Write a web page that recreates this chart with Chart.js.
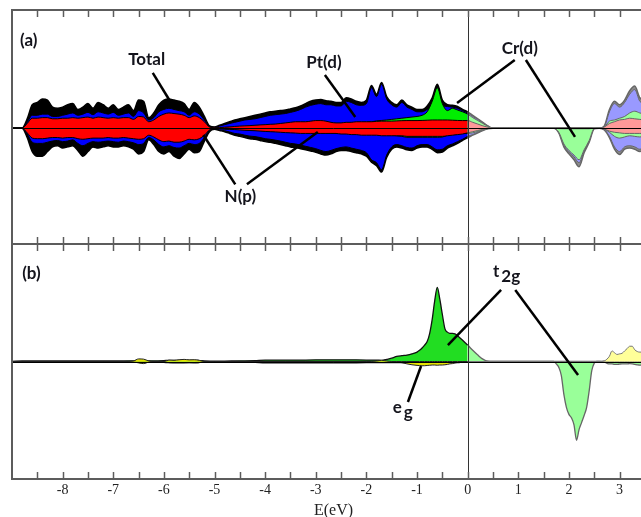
<!DOCTYPE html>
<html>
<head>
<meta charset="utf-8">
<script src="https://cdn.jsdelivr.net/npm/chart.js@4.4.1/dist/chart.umd.min.js"></script>
<style>
  html, body { margin: 0; padding: 0; background: #fff; overflow: hidden; }
  #wrap { position: relative; width: 641px; height: 517px; overflow: hidden; }
  #chartA { position: absolute; left: 0; top: 0; }
  #chartB { position: absolute; left: 0; top: 234px; }
</style>
</head>
<body>
<div id="wrap">
  <canvas id="chartA" width="660" height="250"></canvas>
  <canvas id="chartB" width="660" height="286"></canvas>
</div>
<script>
// ---- panel (a): total and partial DOS, spin up (+) and spin down (-) ----
const energyA = [
  -9.0, -8.9, -8.8, -8.7, -8.6, -8.5, -8.4, -8.3, -8.2, -8.1,
  -8.0, -7.9, -7.8, -7.7, -7.6, -7.5, -7.4, -7.3, -7.2, -7.1,
  -7.0, -6.9, -6.8, -6.7, -6.6, -6.5, -6.4, -6.3, -6.2, -6.1,
  -6.0, -5.9, -5.8, -5.7, -5.6, -5.5, -5.4, -5.3, -5.2, -5.1,
  -5.0, -4.9, -4.8, -4.7, -4.6, -4.5, -4.4, -4.3, -4.2, -4.1,
  -4.0, -3.9, -3.8, -3.7, -3.6, -3.5, -3.4, -3.3, -3.2, -3.1,
  -3.0, -2.9, -2.8, -2.7, -2.6, -2.5, -2.4, -2.3, -2.2, -2.1,
  -2.0, -1.9, -1.8, -1.7, -1.6, -1.5, -1.4, -1.3, -1.2, -1.1,
  -1.0, -0.9, -0.8, -0.7, -0.6, -0.5, -0.4, -0.3, -0.2, -0.1,
  0.0, 0.1, 0.2, 0.3, 0.4, 0.5, 0.6, 0.7, 0.8, 0.9,
  1.0, 1.1, 1.2, 1.3, 1.4, 1.5, 1.6, 1.7, 1.8, 1.9,
  2.0, 2.1, 2.2, 2.3, 2.4, 2.5, 2.6, 2.7, 2.8, 2.9,
  3.0, 3.1, 3.2, 3.3, 3.4, 3.5
];
const totalUp = [
  0, 0, 0, 0.8, 2.0, 2.2, 2.5, 2.4, 1.8, 1.7,
  1.8, 2.0, 2.1, 1.6, 1.8, 2.1, 1.7, 2.2, 2.0, 1.7,
  2.0, 1.6, 1.8, 2.0, 1.5, 2.4, 2.3, 0.9, 1.3, 2.0,
  2.4, 2.5, 2.4, 2.3, 2.1, 1.6, 2.2, 1.8, 1.0, 0.2,
  0.1, 0.25, 0.4, 0.55, 0.7, 0.8, 0.9, 1.0, 1.1, 1.2,
  1.3, 1.4, 1.45, 1.5, 1.55, 1.65, 1.75, 1.9, 2.1, 2.3,
  2.4, 2.45, 2.35, 2.3, 2.2, 2.2, 2.6, 2.5, 2.3, 2.2,
  2.4, 3.65, 2.9, 3.9, 2.7, 2.2, 2.0, 2.4, 2.0, 1.8,
  1.6, 1.6, 1.9, 2.6, 3.75, 2.4, 2.0, 1.95, 1.85, 1.6,
  1.4, 1.1, 0.8, 0.5, 0.2, 0, 0, 0, 0, 0,
  0, 0, 0, 0, 0, 0, 0, 0, 0.03, 0.03,
  0.03, 0.03, 0.03, 0.03, 0.03, 0, 0, 0.2, 1.6, 2.3,
  2.0, 2.4, 3.2, 3.6, 2.6, 2.4
];
const totalDown = [
  0, 0, 0, -0.8, -2.0, -2.4, -2.4, -2.0, -1.6, -1.5,
  -1.7, -1.6, -1.5, -1.9, -2.4, -2.0, -1.6, -1.7, -1.6, -1.5,
  -1.6, -1.6, -1.5, -1.6, -1.8, -2.2, -2.0, -1.0, -1.4, -2.0,
  -2.2, -2.0, -2.4, -2.6, -2.2, -1.8, -2.1, -2.0, -1.1, -0.3,
  -0.1, -0.2, -0.3, -0.45, -0.6, -0.7, -0.8, -0.9, -0.95, -1.05,
  -1.15, -1.2, -1.3, -1.4, -1.5, -1.6, -1.65, -1.75, -1.85, -1.95,
  -2.05, -2.2, -2.3, -2.2, -2.0, -1.9, -1.9, -2.0, -2.1, -2.2,
  -2.4, -2.9, -3.2, -3.75, -2.5, -1.8, -1.6, -1.7, -1.85, -1.9,
  -1.7, -1.6, -1.6, -1.8, -2.1, -2.05, -1.7, -1.5, -1.3, -1.05,
  -0.8, -0.6, -0.4, -0.2, -0.05, 0, 0, 0, 0, 0,
  0, 0, 0, 0, 0, 0, 0, 0, -0.4, -1.6,
  -2.2, -2.7, -3.3, -2.1, -1.2, -0.05, 0, -0.15, -0.8, -1.8,
  -2.25, -1.8, -1.7, -1.8, -2.0, -1.9
];
const ptUp = [
  0, 0, 0, 0.5, 1.1, 1.1, 1.2, 1.2, 1.0, 1.0,
  1.1, 1.2, 1.3, 1.1, 1.2, 1.35, 1.15, 1.4, 1.3, 1.2,
  1.35, 1.1, 1.2, 1.3, 1.0, 1.5, 1.3, 0.7, 0.9, 1.4,
  1.6, 1.7, 1.6, 1.5, 1.4, 1.1, 1.4, 1.2, 0.7, 0.15,
  0.08, 0.18, 0.3, 0.4, 0.5, 0.6, 0.7, 0.75, 0.8, 0.9,
  1.0, 1.1, 1.15, 1.2, 1.25, 1.35, 1.45, 1.6, 1.8, 1.95,
  2.05, 2.1, 2.0, 2.0, 1.9, 1.9, 2.3, 2.2, 2.0, 1.95,
  2.1, 3.45, 2.7, 3.75, 2.5, 2.0, 1.8, 2.2, 1.8, 1.6,
  1.4, 1.4, 1.6, 1.8, 1.9, 1.9, 1.85, 1.8, 1.7, 1.5,
  1.3, 1.0, 0.75, 0.45, 0.18, 0, 0, 0, 0, 0,
  0, 0, 0, 0, 0, 0, 0, 0, 0.02, 0.02,
  0.02, 0.02, 0.02, 0.02, 0.02, 0, 0, 0.15, 1.4, 2.1,
  1.8, 2.2, 2.9, 3.3, 2.3, 2.1
];
const ptDown = [
  0, 0, 0, -0.5, -1.2, -1.3, -1.3, -1.2, -1.1, -1.05,
  -1.15, -1.1, -1.0, -1.3, -1.5, -1.3, -1.15, -1.2, -1.15, -1.1,
  -1.15, -1.2, -1.1, -1.15, -1.25, -1.4, -1.3, -0.8, -1.0, -1.4,
  -1.6, -1.5, -1.65, -1.7, -1.5, -1.3, -1.4, -1.3, -0.8, -0.2,
  -0.06, -0.15, -0.22, -0.33, -0.45, -0.5, -0.6, -0.68, -0.72, -0.8,
  -0.9, -0.95, -1.02, -1.1, -1.2, -1.3, -1.35, -1.45, -1.55, -1.65,
  -1.75, -1.9, -2.0, -1.9, -1.75, -1.65, -1.6, -1.7, -1.8, -1.9,
  -2.1, -2.7, -2.95, -3.55, -2.3, -1.6, -1.4, -1.5, -1.65, -1.7,
  -1.5, -1.4, -1.4, -1.6, -1.85, -1.8, -1.5, -1.35, -1.15, -0.95,
  -0.7, -0.55, -0.35, -0.18, -0.04, 0, 0, 0, 0, 0,
  0, 0, 0, 0, 0, 0, 0, 0, -0.37, -1.45,
  -2.0, -2.45, -2.95, -1.95, -1.1, -0.04, 0, -0.12, -0.7, -1.6,
  -2.0, -1.6, -1.5, -1.6, -1.8, -1.7
];
const crUp = [
  0, 0, 0, 0.2, 0.3, 0.3, 0.3, 0.3, 0.3, 0.3,
  0.3, 0.3, 0.3, 0.3, 0.3, 0.3, 0.3, 0.3, 0.3, 0.3,
  0.3, 0.3, 0.3, 0.3, 0.3, 0.3, 0.3, 0.3, 0.3, 0.3,
  0.3, 0.3, 0.3, 0.3, 0.3, 0.3, 0.3, 0.3, 0.3, 0.08,
  0.02, 0.04, 0.06, 0.08, 0.1, 0.12, 0.14, 0.16, 0.18, 0.2,
  0.22, 0.24, 0.26, 0.28, 0.3, 0.32, 0.34, 0.36, 0.38, 0.4,
  0.42, 0.44, 0.44, 0.42, 0.4, 0.4, 0.42, 0.44, 0.46, 0.48,
  0.5, 0.55, 0.62, 0.66, 0.7, 0.75, 0.8, 0.85, 0.9, 0.95,
  1.0, 1.1, 1.4, 2.3, 3.45, 2.1, 1.5, 1.7, 1.55, 1.4,
  1.2, 0.9, 0.65, 0.4, 0.15, 0, 0, 0, 0, 0,
  0, 0, 0, 0, 0, 0, 0, 0, 0, 0,
  0, 0, 0, 0, 0, 0, 0, 0.1, 0.6, 0.7,
  0.85, 1.0, 1.3, 1.45, 1.3, 1.2
];
const crDown = [
  0, 0, 0, -0.2, -0.3, -0.3, -0.3, -0.3, -0.3, -0.3,
  -0.3, -0.3, -0.3, -0.3, -0.3, -0.3, -0.3, -0.3, -0.3, -0.3,
  -0.3, -0.3, -0.3, -0.3, -0.3, -0.3, -0.3, -0.3, -0.3, -0.3,
  -0.3, -0.3, -0.3, -0.3, -0.3, -0.3, -0.3, -0.3, -0.3, -0.08,
  -0.02, -0.04, -0.06, -0.08, -0.1, -0.12, -0.14, -0.16, -0.18, -0.2,
  -0.22, -0.24, -0.26, -0.28, -0.3, -0.32, -0.34, -0.36, -0.38, -0.4,
  -0.4, -0.4, -0.4, -0.4, -0.4, -0.4, -0.4, -0.4, -0.4, -0.4,
  -0.45, -0.5, -0.5, -0.55, -0.55, -0.6, -0.65, -0.7, -0.78, -0.78,
  -0.78, -0.78, -0.78, -0.78, -0.78, -0.76, -0.6, -0.55, -0.5, -0.45,
  -0.45, -0.4, -0.28, -0.15, -0.03, 0, 0, 0, 0, 0,
  0, 0, 0, 0, 0, 0, 0, 0, -0.35, -1.35,
  -1.9, -2.3, -2.7, -1.85, -1.05, -0.03, 0, -0.08, -0.35, -0.7,
  -0.85, -0.75, -0.65, -0.7, -0.75, -0.7
];
const nUp = [
  0, 0, 0, 0.4, 0.85, 0.85, 0.9, 0.9, 0.8, 0.8,
  0.85, 0.85, 0.9, 0.85, 0.9, 0.95, 0.85, 0.95, 0.9, 0.85,
  0.9, 0.85, 0.9, 0.9, 0.75, 1.0, 0.95, 0.55, 0.7, 1.0,
  1.2, 1.3, 1.25, 1.2, 1.1, 0.9, 1.05, 0.9, 0.55, 0.1,
  0.03, 0.05, 0.08, 0.1, 0.15, 0.18, 0.2, 0.22, 0.25, 0.28,
  0.3, 0.33, 0.35, 0.4, 0.45, 0.5, 0.55, 0.55, 0.55, 0.6,
  0.65, 0.65, 0.6, 0.5, 0.45, 0.45, 0.5, 0.5, 0.55, 0.55,
  0.55, 0.55, 0.58, 0.6, 0.6, 0.6, 0.62, 0.64, 0.65, 0.65,
  0.65, 0.66, 0.68, 0.7, 0.7, 0.7, 0.7, 0.68, 0.66, 0.65,
  0.65, 0.5, 0.35, 0.2, 0.08, 0, 0, 0, 0, 0,
  0, 0, 0, 0, 0, 0, 0, 0, 0.04, 0.04,
  0.04, 0.04, 0.04, 0.04, 0.04, 0, 0, 0.1, 0.4, 0.55,
  0.7, 0.75, 0.85, 0.8, 0.75, 0.7
];
const nDown = [
  0, 0, 0, -0.4, -0.85, -0.9, -0.9, -0.85, -0.8, -0.8,
  -0.85, -0.8, -0.8, -0.9, -0.95, -0.9, -0.85, -0.85, -0.85, -0.8,
  -0.85, -0.85, -0.8, -0.85, -0.9, -0.95, -0.9, -0.6, -0.75, -1.0,
  -1.15, -1.1, -1.2, -1.2, -1.1, -0.95, -1.0, -0.9, -0.6, -0.15,
  -0.03, -0.05, -0.08, -0.1, -0.12, -0.15, -0.18, -0.2, -0.22, -0.25,
  -0.28, -0.3, -0.32, -0.35, -0.38, -0.4, -0.42, -0.45, -0.45, -0.45,
  -0.45, -0.45, -0.45, -0.45, -0.45, -0.5, -0.5, -0.55, -0.55, -0.6,
  -0.6, -0.6, -0.6, -0.65, -0.65, -0.65, -0.65, -0.65, -0.7, -0.7,
  -0.7, -0.7, -0.7, -0.7, -0.7, -0.7, -0.65, -0.6, -0.55, -0.5,
  -0.4, -0.3, -0.2, -0.1, -0.02, 0, 0, 0, 0, 0,
  0, 0, 0, 0, 0, 0, 0, 0, -0.04, -0.05,
  -0.05, -0.05, -0.05, -0.05, -0.05, 0, 0, -0.08, -0.25, -0.35,
  -0.4, -0.45, -0.45, -0.45, -0.45, -0.45
];

// ---- panel (b): Cr d split into t2g and eg ----
const energyB = [
  -9.0, -8.8, -8.6, -8.4, -8.2, -8.0, -7.8, -7.6, -7.4, -7.2,
  -7.0, -6.8, -6.6, -6.5, -6.4, -6.3, -6.2, -6.0, -5.9, -5.8,
  -5.7, -5.6, -5.5, -5.4, -5.3, -5.2, -5.0, -4.8, -4.6, -4.4,
  -4.2, -4.0, -3.6, -3.2, -2.8, -2.4, -2.0, -1.8, -1.7, -1.6,
  -1.5, -1.4, -1.3, -1.2, -1.1, -1.0, -0.95, -0.9, -0.85, -0.8,
  -0.75, -0.7, -0.65, -0.6, -0.55, -0.5, -0.45, -0.4, -0.35, -0.3,
  -0.25, -0.2, -0.15, -0.1, -0.05, 0.0, 0.1, 0.2, 0.3, 0.4,
  0.5, 1.0, 1.5, 1.7, 1.75, 1.8, 1.85, 1.9, 1.95, 2.0,
  2.05, 2.1, 2.15, 2.2, 2.25, 2.3, 2.35, 2.4, 2.45, 2.5,
  2.55, 2.6, 2.7, 2.75, 2.8, 2.85, 2.9, 2.95, 3.0, 3.05,
  3.1, 3.15, 3.2, 3.25, 3.3, 3.35, 3.4, 3.5
];
const t2gUp = [
  0, 0.05, 0.05, 0.05, 0.05, 0.05, 0.05, 0.05, 0.05, 0.05,
  0.05, 0.05, 0.06, 0.08, 0.08, 0.06, 0.06, 0.08, 0.1, 0.1,
  0.1, 0.1, 0.1, 0.1, 0.08, 0.05, 0.02, 0.04, 0.05, 0.06,
  0.08, 0.12, 0.12, 0.12, 0.14, 0.14, 0.12, 0.12, 0.1, 0.18,
  0.28, 0.43, 0.5, 0.55, 0.65, 0.8, 0.95, 1.15, 1.4, 1.7,
  2.4, 3.6, 5.2, 6.3, 5.3, 4.0, 2.8, 2.5, 2.4, 2.4,
  2.35, 2.2, 2.0, 1.8, 1.6, 1.4, 0.95, 0.55, 0.2, 0.02,
  0, 0, 0, 0, 0, 0, 0, 0, 0, 0,
  0, 0, 0, 0, 0, 0, 0, 0, 0, 0,
  0, 0, 0.02, 0.05, 0.08, 0.1, 0.1, 0.1, 0.1, 0.1,
  0.1, 0.1, 0.12, 0.12, 0.1, 0.1, 0.1, 0.1
];
const t2gDown = [
  0, -0.05, -0.05, -0.05, -0.05, -0.05, -0.05, -0.05, -0.05, -0.05,
  -0.05, -0.05, -0.06, -0.08, -0.08, -0.06, -0.06, -0.08, -0.1, -0.1,
  -0.1, -0.1, -0.1, -0.1, -0.08, -0.05, -0.02, -0.04, -0.05, -0.06,
  -0.08, -0.12, -0.12, -0.12, -0.12, -0.12, -0.1, -0.1, -0.1, -0.1,
  -0.1, -0.1, -0.1, -0.1, -0.1, -0.1, -0.1, -0.1, -0.1, -0.1,
  -0.1, -0.1, -0.1, -0.1, -0.1, -0.1, -0.1, -0.1, -0.1, -0.1,
  -0.1, -0.1, -0.08, -0.06, -0.05, -0.05, -0.04, -0.03, -0.02, 0,
  0, 0, 0, 0, -0.2, -0.5, -1.2, -2.8, -3.9, -4.5,
  -4.8, -5.4, -6.7, -5.8, -5.2, -4.6, -3.9, -2.5, -0.8, -0.15,
  0, 0, -0.05, -0.15, -0.2, -0.2, -0.25, -0.25, -0.22, -0.2,
  -0.2, -0.2, -0.18, -0.2, -0.25, -0.28, -0.3, -0.3
];
const egUp = [
  0, 0, 0, 0, 0, 0, 0, 0, 0, 0,
  0, 0, 0.05, 0.22, 0.2, 0.05, 0, 0, 0.12, 0.1,
  0.15, 0.18, 0.14, 0.15, 0.1, 0, 0, 0, 0, 0,
  0, 0, 0, 0, 0, 0, 0, 0.05, 0.1, 0.05,
  0, 0, 0, 0, 0, 0, 0, 0, 0, 0,
  0, 0, 0, 0, 0, 0, 0, 0, 0, 0,
  0, 0, 0, 0, 0, 0, 0, 0, 0, 0,
  0, 0, 0, 0, 0, 0, 0, 0, 0, 0,
  0, 0, 0, 0, 0, 0, 0, 0, 0, 0,
  0, 0, 0.05, 0.2, 0.45, 0.9, 0.75, 0.6, 0.65, 0.7,
  0.9, 1.1, 1.3, 1.3, 1.0, 0.85, 0.8, 0.8
];
const egDown = [
  0, 0, 0, 0, 0, 0, 0, 0, 0, 0,
  0, 0, -0.03, -0.12, -0.18, -0.05, 0, 0, -0.1, -0.12,
  -0.12, -0.12, -0.1, -0.12, -0.1, 0, 0, 0, 0, 0,
  0, 0, 0, 0, 0, 0, 0, -0.03, -0.08, -0.05,
  -0.03, -0.05, -0.1, -0.2, -0.28, -0.33, -0.35, -0.36, -0.36, -0.34,
  -0.32, -0.3, -0.3, -0.32, -0.3, -0.3, -0.28, -0.25, -0.2, -0.18,
  -0.12, -0.08, -0.05, -0.03, -0.02, 0, 0, 0, 0, 0,
  0, 0, 0, 0, 0, 0, 0, 0, 0, 0,
  0, 0, 0, 0, 0, 0, 0, 0, 0, 0,
  0, 0, 0, 0, 0, 0, 0, 0, 0, 0,
  0, 0, 0, 0, 0, 0, 0, 0
];

// labels and leader lines, in data units (E, DOS)
const notesA = {
  labels: [
    { text: '(a)', e: -8.84, v: 7.5, align: 'left' },
    { text: 'Total', e: -6.34, v: 5.9 },
    { text: 'Pt(d)', e: -2.84, v: 5.57 },
    { text: 'Cr(d)', e: 1.03, v: 6.85 },
    { text: 'N(p)', e: -4.49, v: -5.88 }
  ],
  leaders: [
    [-6.22, 4.72, -5.88, 2.32],
    [-2.82, 4.55, -2.22, 0.96],
    [0.93, 5.83, -0.21, 2.15],
    [1.15, 5.83, 2.12, -0.75],
    [-4.59, -4.8, -5.22, -0.58],
    [-4.36, -4.8, -2.96, -0.32]
  ]
};
const notesB = {
  labels: [
    { text: '(b)', e: -8.8, v: 7.45, align: 'left' },
    { text: 't', sub: '2g', e: 0.5, v: 7.19, align: 'left' },
    { text: 'e', sub: 'g', e: -1.48, v: -4.38, align: 'left' }
  ],
  leaders: [
    [0.66, 6.09, -0.39, 1.4],
    [0.94, 6.09, 2.18, -1.15],
    [-1.18, -3.45, -0.92, -0.38]
  ]
};

function dosSet(label, xs, ys, dark, light, edge, lightEdge, width) {
  return {
    label: label,
    data: xs.map((x, i) => ({ x: x, y: ys[i] })),
    fill: 'origin',
    backgroundColor: dark,
    borderColor: edge,
    borderWidth: width || 1,
    pointRadius: 0,
    cubicInterpolationMode: 'monotone',
    segment: {
      backgroundColor: c => c.p0.parsed.x >= 0 ? light : dark,
      borderColor: c => c.p0.parsed.x >= 0 ? lightEdge : edge
    }
  };
}

function panelDecor(notes) {
  return {
    id: 'panelDecor',
    afterDatasetsDraw(chart) {
      const { ctx, chartArea: a, scales: { x, y } } = chart;
      const seg = (x1, y1, x2, y2) => { ctx.beginPath(); ctx.moveTo(x1, y1); ctx.lineTo(x2, y2); ctx.stroke(); };
      ctx.save();
      // zero line and Fermi level
      ctx.lineWidth = 1;
      ctx.strokeStyle = '#000';
      const y0 = Math.round(y.getPixelForValue(0)) + 0.5;
      seg(a.left, y0, a.right, y0);
      const xf = Math.round(x.getPixelForValue(0)) + 0.5;
      ctx.strokeStyle = '#333';
      seg(xf, a.top, xf, a.bottom);
      // frame
      ctx.strokeStyle = '#5c5c5c';
      ctx.lineWidth = 2;
      ctx.beginPath();
      ctx.moveTo(a.right, a.top);
      ctx.lineTo(a.left, a.top);
      ctx.lineTo(a.left, a.bottom);
      ctx.lineTo(a.right, a.bottom);
      ctx.stroke();
      // inward tick marks
      ctx.lineWidth = 1.5;
      const step = x.options.ticks.stepSize;
      for (let e = x.min + step; e < x.max; e += step) {
        const px = Math.round(x.getPixelForValue(e)) + 0.5;
        seg(px, a.top, px, a.top + 7);
        seg(px, a.bottom - 7, px, a.bottom);
      }
      // leader lines
      ctx.strokeStyle = '#000';
      ctx.lineWidth = 2.5;
      notes.leaders.forEach(l => seg(x.getPixelForValue(l[0]), y.getPixelForValue(l[1]),
                                     x.getPixelForValue(l[2]), y.getPixelForValue(l[3])));
      // labels
      ctx.fillStyle = '#14141c';
      ctx.font = 'bold 17px Lato';
      notes.labels.forEach(n => {
        const px = x.getPixelForValue(n.e), py = y.getPixelForValue(n.v);
        ctx.textAlign = n.align || 'center';
        ctx.textBaseline = n.sub ? 'alphabetic' : 'middle';
        ctx.fillText(n.text, px, py);
        if (n.sub) {
          ctx.textAlign = 'left';
          ctx.fillText(n.sub, px + ctx.measureText(n.text).width + 2, py + 5);
        }
      });
      ctx.restore();
    }
  };
}

function panelOptions(yMin, yMax, showAxis) {
  return {
    responsive: false,
    animation: false,
    layout: { autoPadding: false, padding: { left: 12, right: 5, top: 10, bottom: showAxis ? 0 : 6 } },
    plugins: { legend: { display: false }, tooltip: { enabled: false } },
    scales: {
      x: {
        type: 'linear', min: -9, max: 3.7, display: showAxis,
        grid: { display: false, drawTicks: false }, border: { display: false },
        ticks: {
          stepSize: 0.5, includeBounds: false, autoSkip: false, maxRotation: 0, padding: 4,
          color: '#222', font: { family: 'Liberation Serif', size: 14, lineHeight: 1.1 },
          callback: v => (Number.isInteger(v) && v > -9) ? String(v) : ''
        },
        title: {
          display: true, text: 'E(eV)', color: '#222', padding: { top: 0, bottom: 0 },
          font: { family: 'Liberation Serif', size: 16, lineHeight: 1.1 }
        }
      },
      y: { min: yMin, max: yMax, display: false }
    }
  };
}

new Chart(document.getElementById('chartA'), {
  type: 'line',
  data: {
    datasets: [
      dosSet('N(p) up', energyA, nUp, '#ff0000', '#ff9999', '#000', '#666'),
      dosSet('N(p) down', energyA, nDown, '#ff0000', '#ff9999', '#000', '#666'),
      dosSet('Cr(d) up', energyA, crUp, '#00ee00', '#99ff99', '#000', '#666'),
      dosSet('Cr(d) down', energyA, crDown, '#00ee00', '#99ff99', '#000', '#666'),
      dosSet('Pt(d) up', energyA, ptUp, '#0000ff', '#9999ff', '#000', '#666'),
      dosSet('Pt(d) down', energyA, ptDown, '#0000ff', '#9999ff', '#000', '#666'),
      dosSet('Total up', energyA, totalUp, '#000000', '#8c8c8c', '#000', '#666', 1.5),
      dosSet('Total down', energyA, totalDown, '#000000', '#8c8c8c', '#000', '#666', 1.5)
    ]
  },
  options: panelOptions(-9.9, 10.1, false),
  plugins: [panelDecor(notesA)]
});

new Chart(document.getElementById('chartB'), {
  type: 'line',
  data: {
    datasets: [
      dosSet('eg up', energyB, egUp, '#e5e500', '#ffff99', '#222', '#777'),
      dosSet('eg down', energyB, egDown, '#e5e500', '#ffff99', '#222', '#777'),
      dosSet('t2g up', energyB, t2gUp, '#22dd22', '#99ff99', '#111', '#666', 1.3),
      dosSet('t2g down', energyB, t2gDown, '#22dd22', '#99ff99', '#111', '#666', 1.3)
    ]
  },
  options: panelOptions(-10, 10, true),
  plugins: [panelDecor(notesB)]
});
</script>
</body>
</html>
